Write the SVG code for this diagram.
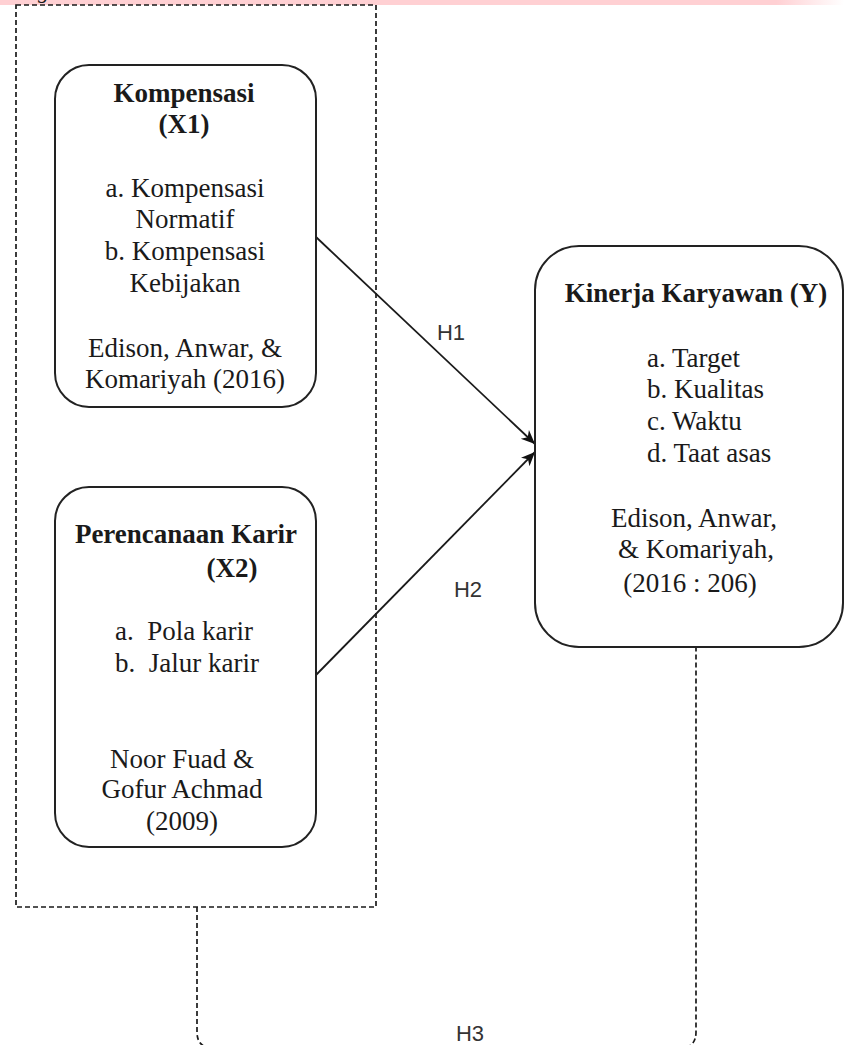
<svg xmlns="http://www.w3.org/2000/svg" width="844" height="1045" viewBox="0 0 844 1045">
<defs>
<linearGradient id="band" x1="0" y1="0" x2="1" y2="0">
<stop offset="0" stop-color="#ffd0d3"/>
<stop offset="0.92" stop-color="#ffd0d3"/>
<stop offset="1" stop-color="#ffffff"/>
</linearGradient>
<marker id="arr" markerUnits="userSpaceOnUse" markerWidth="16" markerHeight="14" refX="14" refY="6" orient="auto" viewBox="0 0 16 12">
<path d="M0,0 L14,6 L0,12 L4,6 Z" fill="#111"/>
</marker>
<style>
.node{fill:#fff;stroke:#222;stroke-width:2}
.t{font-family:"Liberation Serif","Times New Roman",serif;font-size:27px;fill:#1a1a1a}
.b{font-weight:bold}
.c{text-anchor:middle}
.lbl{font-family:"Liberation Sans",Arial,sans-serif;font-size:22px;fill:#333;text-anchor:middle}
.dash{fill:none;stroke:#1a1a1a;stroke-width:1.7;stroke-dasharray:5 3}
.edge{fill:none;stroke:#1a1a1a;stroke-width:1.8}
</style>
</defs>
<rect x="0" y="0" width="844" height="1045" fill="#fff"/>
<rect x="0" y="0" width="844" height="5" fill="url(#band)"/>
<text x="38" y="-2" class="t" style="font-size:22px;font-style:italic">g</text>

<g id="group-box">
<rect class="dash" x="16" y="5" width="360" height="902"/>
</g>

<g id="connectors">
<line class="edge" x1="316" y1="237" x2="535" y2="444" marker-end="url(#arr)"/>
<line class="edge" x1="316" y1="675" x2="535" y2="452" marker-end="url(#arr)"/>
<path class="dash" d="M197 907 V1032 Q197 1048 213 1048 H680 Q696 1048 696 1032 V647"/>
<text class="lbl" x="451" y="340">H1</text>
<text class="lbl" x="468" y="597">H2</text>
<text class="lbl" x="470" y="1041">H3</text>
</g>

<g id="kompensasi">
<rect class="node" x="55" y="65" width="261" height="342" rx="34" ry="34"/>
<text class="t b c" x="184" y="102">Kompensasi</text>
<text class="t b c" x="184" y="133">(X1)</text>
<text class="t c" x="185" y="197">a. Kompensasi</text>
<text class="t c" x="185" y="228">Normatif</text>
<text class="t c" x="185" y="260">b. Kompensasi</text>
<text class="t c" x="185" y="292">Kebijakan</text>
<text class="t c" x="185" y="357">Edison, Anwar, &amp;</text>
<text class="t c" x="185" y="388">Komariyah (2016)</text>
</g>

<g id="perencanaan">
<rect class="node" x="55" y="487" width="261" height="360" rx="34" ry="34"/>
<text class="t b c" x="186" y="543">Perencanaan Karir</text>
<text class="t b c" x="232" y="577">(X2)</text>
<text class="t" x="115" y="640" xml:space="preserve" style="white-space:pre">a.  Pola karir</text>
<text class="t" x="115" y="672" xml:space="preserve" style="white-space:pre">b.  Jalur karir</text>
<text class="t c" x="182" y="768">Noor Fuad &amp;</text>
<text class="t c" x="182" y="798">Gofur Achmad</text>
<text class="t c" x="182" y="830">(2009)</text>
</g>

<g id="kinerja">
<rect class="node" x="535" y="246" width="308" height="401" rx="44" ry="44"/>
<text class="t b c" x="696" y="302">Kinerja Karyawan (Y)</text>
<text class="t" x="647" y="367">a. Target</text>
<text class="t" x="647" y="398">b. Kualitas</text>
<text class="t" x="647" y="430">c. Waktu</text>
<text class="t" x="647" y="462">d. Taat asas</text>
<text class="t c" x="694" y="527">Edison, Anwar,</text>
<text class="t c" x="696" y="558">&amp; Komariyah,</text>
<text class="t c" x="690" y="592">(2016 : 206)</text>
</g>
</svg>
